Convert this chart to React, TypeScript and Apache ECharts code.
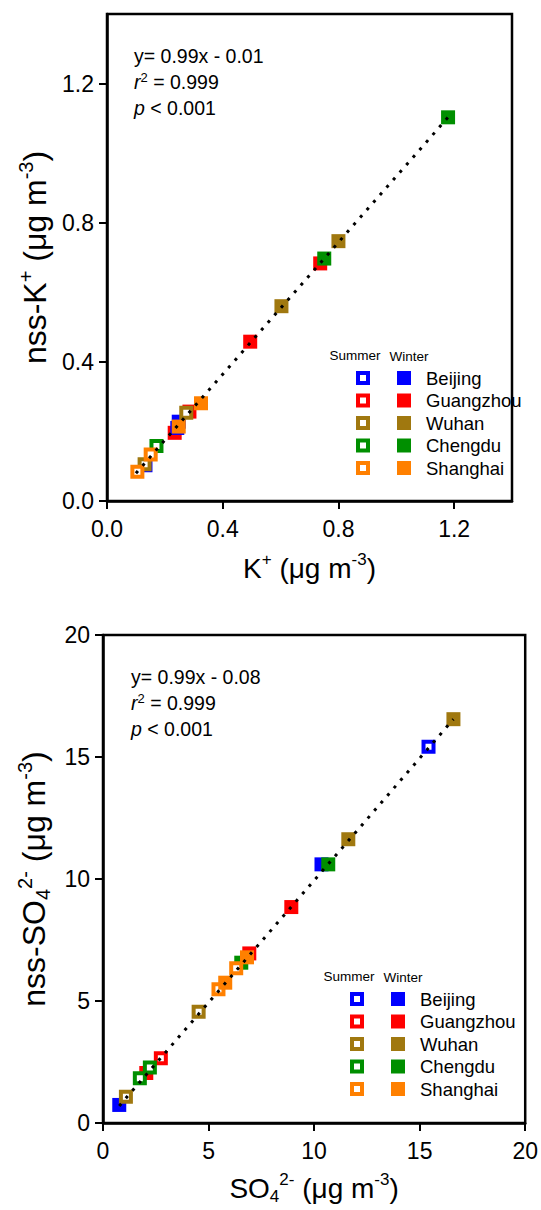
import React, { useEffect, useRef } from "react";
import * as echarts from "echarts";

const FONT = "'Liberation Sans', Arial, Helvetica, sans-serif";

const cities = ["Beijing", "Guangzhou", "Wuhan", "Chengdu", "Shanghai"];
const cityColors = ["#0000FF", "#FF0000", "#A0780F", "#008F00", "#FF8000"];

// Panel 1: K+ vs nss-K+
const kWinterBeijing = [[0.248, 0.228], [0.243, 0.21]];
const kWinterGuangzhou = [[0.737, 0.683], [0.495, 0.458], [0.285, 0.257], [0.234, 0.196]];
const kWinterWuhan = [[0.8, 0.747], [0.603, 0.56]];
const kWinterChengdu = [[1.179, 1.103], [0.751, 0.697]];
const kWinterShanghai = [[0.325, 0.281], [0.248, 0.214]];
const kSummerBeijing = [[0.133, 0.103]];
const kSummerGuangzhou: number[][] = [];
const kSummerWuhan = [[0.274, 0.254], [0.13, 0.106]];
const kSummerChengdu = [[0.171, 0.158]];
const kSummerShanghai = [[0.151, 0.134], [0.105, 0.084]];
const kFitLine = [[0.1, 0.08], [1.179, 1.103]];
const kTicks = [0, 0.4, 0.8, 1.2];

// Panel 2: SO4 2- vs nss-SO4 2-
const sWinterBeijing = [[0.77, 0.74], [10.35, 10.6]];
const sWinterGuangzhou = [[8.92, 8.85], [6.93, 6.95], [2.05, 2.05]];
const sWinterWuhan = [[16.6, 16.55], [11.62, 11.63]];
const sWinterChengdu = [[10.67, 10.6], [6.55, 6.57]];
const sWinterShanghai = [[6.82, 6.79], [5.79, 5.75]];
const sSummerBeijing = [[15.42, 15.42]];
const sSummerGuangzhou = [[2.74, 2.65]];
const sSummerWuhan = [[4.53, 4.56], [1.085, 1.08]];
const sSummerChengdu = [[2.22, 2.27], [1.745, 1.83]];
const sSummerShanghai = [[6.31, 6.34], [5.47, 5.48]];
const sFitLine = [[0.77, 0.7], [16.6, 16.55]];
const sTicks = [0, 5, 10, 15, 20];

const kWinter = [kWinterBeijing, kWinterGuangzhou, kWinterWuhan, kWinterChengdu, kWinterShanghai];
const kSummer = [kSummerBeijing, kSummerGuangzhou, kSummerWuhan, kSummerChengdu, kSummerShanghai];
const sWinter = [sWinterBeijing, sWinterGuangzhou, sWinterWuhan, sWinterChengdu, sWinterShanghai];
const sSummer = [sSummerBeijing, sSummerGuangzhou, sSummerWuhan, sSummerChengdu, sSummerShanghai];

// drawing order (index into cities, season)
const drawOrder: [number, "W" | "S"][] = [
  [1, "W"], [0, "W"], [0, "S"], [1, "S"], [2, "S"], [3, "S"], [2, "W"], [3, "W"], [4, "S"], [4, "W"],
];

function richFor(size: number) {
  const s = Math.round(size * 0.62);
  return {
    b: { fontSize: size, lineHeight: size + 6, fontFamily: FONT, color: "#000" },
    sup: { fontSize: s, lineHeight: s - 2, verticalAlign: "top" as const, fontFamily: FONT, color: "#000" },
    sub: { fontSize: s, lineHeight: s - 4, verticalAlign: "bottom" as const, fontFamily: FONT, color: "#000" },
  };
}

function makeAxis(gridIndex: number, min: number, max: number, interval: number, ticks: number[], dec: number, name: string, nameGap: number, isY: boolean, nameSize: number) {
  return {
    type: "value",
    gridIndex,
    min,
    max,
    interval,
    name,
    nameLocation: "middle",
    nameGap,
    nameTextStyle: { rich: richFor(nameSize), fontSize: nameSize, fontFamily: FONT, color: "#000" },
    axisLine: { show: true, onZero: false, lineStyle: { color: "#000", width: 2.5 } },
    axisTick: { show: true, inside: false, length: 8, customValues: ticks, lineStyle: { color: "#000", width: 2 } },
    axisLabel: {
      show: true,
      customValues: ticks,
      margin: isY ? 13 : 16,
      fontSize: 23,
      fontFamily: FONT,
      color: "#000",
      formatter: (v: number) => v.toFixed(dec),
    },
    splitLine: { show: false },
  };
}

function legendGraphics(top: number, summerX: number, winterX: number, labelX: number, headerY: number, rowStep: number) {
  const els: any[] = [];
  els.push({ type: "text", x: summerX - 8, y: headerY, style: { text: "Summer", font: `13.5px ${FONT}`, fill: "#000", textAlign: "center", textVerticalAlign: "middle" } });
  els.push({ type: "text", x: winterX + 5, y: headerY + 1, style: { text: "Winter", font: `13.5px ${FONT}`, fill: "#000", textAlign: "center", textVerticalAlign: "middle" } });
  cities.forEach((c, i) => {
    const cy = top + i * rowStep;
    els.push({ type: "rect", shape: { x: summerX - 5, y: cy - 5, width: 10, height: 10 }, style: { fill: "#fff", stroke: cityColors[i], lineWidth: 4 } });
    els.push({ type: "rect", shape: { x: winterX - 7, y: cy - 7, width: 14, height: 14 }, style: { fill: cityColors[i] } });
    els.push({ type: "text", x: labelX, y: cy, style: { text: c, font: `18.5px ${FONT}`, fill: "#000", textAlign: "left", textVerticalAlign: "middle" } });
  });
  return els;
}

function statGraphics(x: number, y0: number, eq: string) {
  const f = `19.5px ${FONT}`;
  return [
    { type: "text", x, y: y0, style: { text: eq, font: f, fill: "#000", textVerticalAlign: "middle" } },
    {
      type: "text", x, y: y0 + 26,
      style: {
        text: "{i|r}{s|2}{n| = 0.999}",
        textVerticalAlign: "middle",
        rich: {
          i: { font: `italic 19.5px ${FONT}`, fill: "#000", lineHeight: 22 },
          s: { font: `13px ${FONT}`, fill: "#000", lineHeight: 12, verticalAlign: "top" },
          n: { font: f, fill: "#000", lineHeight: 22 },
        },
      },
    },
    {
      type: "text", x, y: y0 + 52,
      style: {
        text: "{i|p}{n| < 0.001}",
        textVerticalAlign: "middle",
        rich: {
          i: { font: `italic 19.5px ${FONT}`, fill: "#000", lineHeight: 22 },
          n: { font: f, fill: "#000", lineHeight: 22 },
        },
      },
    },
  ];
}

function buildSeries(winter: number[][][], summer: number[][][], fit: number[][], idx: number) {
  const series: any[] = [];
  drawOrder.forEach(([ci, season]) => {
    const filled = season === "W";
    series.push({
      type: "scatter",
      name: `${cities[ci]} ${filled ? "Winter" : "Summer"}`,
      xAxisIndex: idx,
      yAxisIndex: idx,
      symbol: "rect",
      symbolSize: filled ? 14 : 10,
      data: filled ? winter[ci] : summer[ci],
      itemStyle: filled
        ? { color: cityColors[ci], opacity: 1 }
        : { color: "#fff", borderColor: cityColors[ci], borderWidth: 4, opacity: 1 },
      z: 2,
    });
  });
  series.push({
    type: "line",
    xAxisIndex: idx,
    yAxisIndex: idx,
    data: fit,
    symbol: "none",
    lineStyle: { color: "#000", width: 3, type: [3, 7] },
    z: 5,
  });
  return series;
}

export default function App() {
  const ref = useRef<HTMLDivElement>(null);
  useEffect(() => {
    if (!ref.current) return;
    const chart = echarts.init(ref.current, null, { renderer: "svg" });
    const option: any = {
      animation: false,
      backgroundColor: "#fff",
      grid: [
        { left: 107, top: 14, width: 405, height: 487, show: true, borderColor: "#000", borderWidth: 2.5, backgroundColor: "transparent" },
        { left: 103, top: 635, width: 424, height: 488, show: true, borderColor: "#000", borderWidth: 2.5, backgroundColor: "transparent" },
      ],
      xAxis: [
        makeAxis(0, 0, 1.4, 0.4, kTicks, 1, "{b|K}{sup|+}{b| (μg m}{sup|-3}{b|)}", 50, false, 28),
        makeAxis(1, 0, 20, 5, sTicks, 0, "{b|SO}{sub|4}{sup|2-}{b| (μg m}{sup|-3}{b|)}", 48, false, 28),
      ],
      yAxis: [
        makeAxis(0, 0, 1.4, 0.4, kTicks, 1, "{b|nss-K}{sup|+}{b| (μg m}{sup|-3}{b|)}", 50, true, 32),
        makeAxis(1, 0, 20, 5, sTicks, 0, "{b|nss-SO}{sub|4}{sup|2-}{b| (μg m}{sup|-3}{b|)}", 50, true, 32),
      ],
      series: [...buildSeries(kWinter, kSummer, kFitLine, 0), ...buildSeries(sWinter, sSummer, sFitLine, 1)],
      graphic: [
        ...statGraphics(134, 56, "y= 0.99x - 0.01"),
        ...statGraphics(131, 677, "y= 0.99x - 0.08"),
        ...legendGraphics(378, 363, 404, 426, 355, 22.5),
        ...legendGraphics(999, 357, 398, 420, 976, 22.5),
      ],
    };
    chart.setOption(option);
    return () => chart.dispose();
  }, []);
  return <div ref={ref} style={{ position: "absolute", left: 0, top: 0, width: 541, height: 1210 }} />;
}
